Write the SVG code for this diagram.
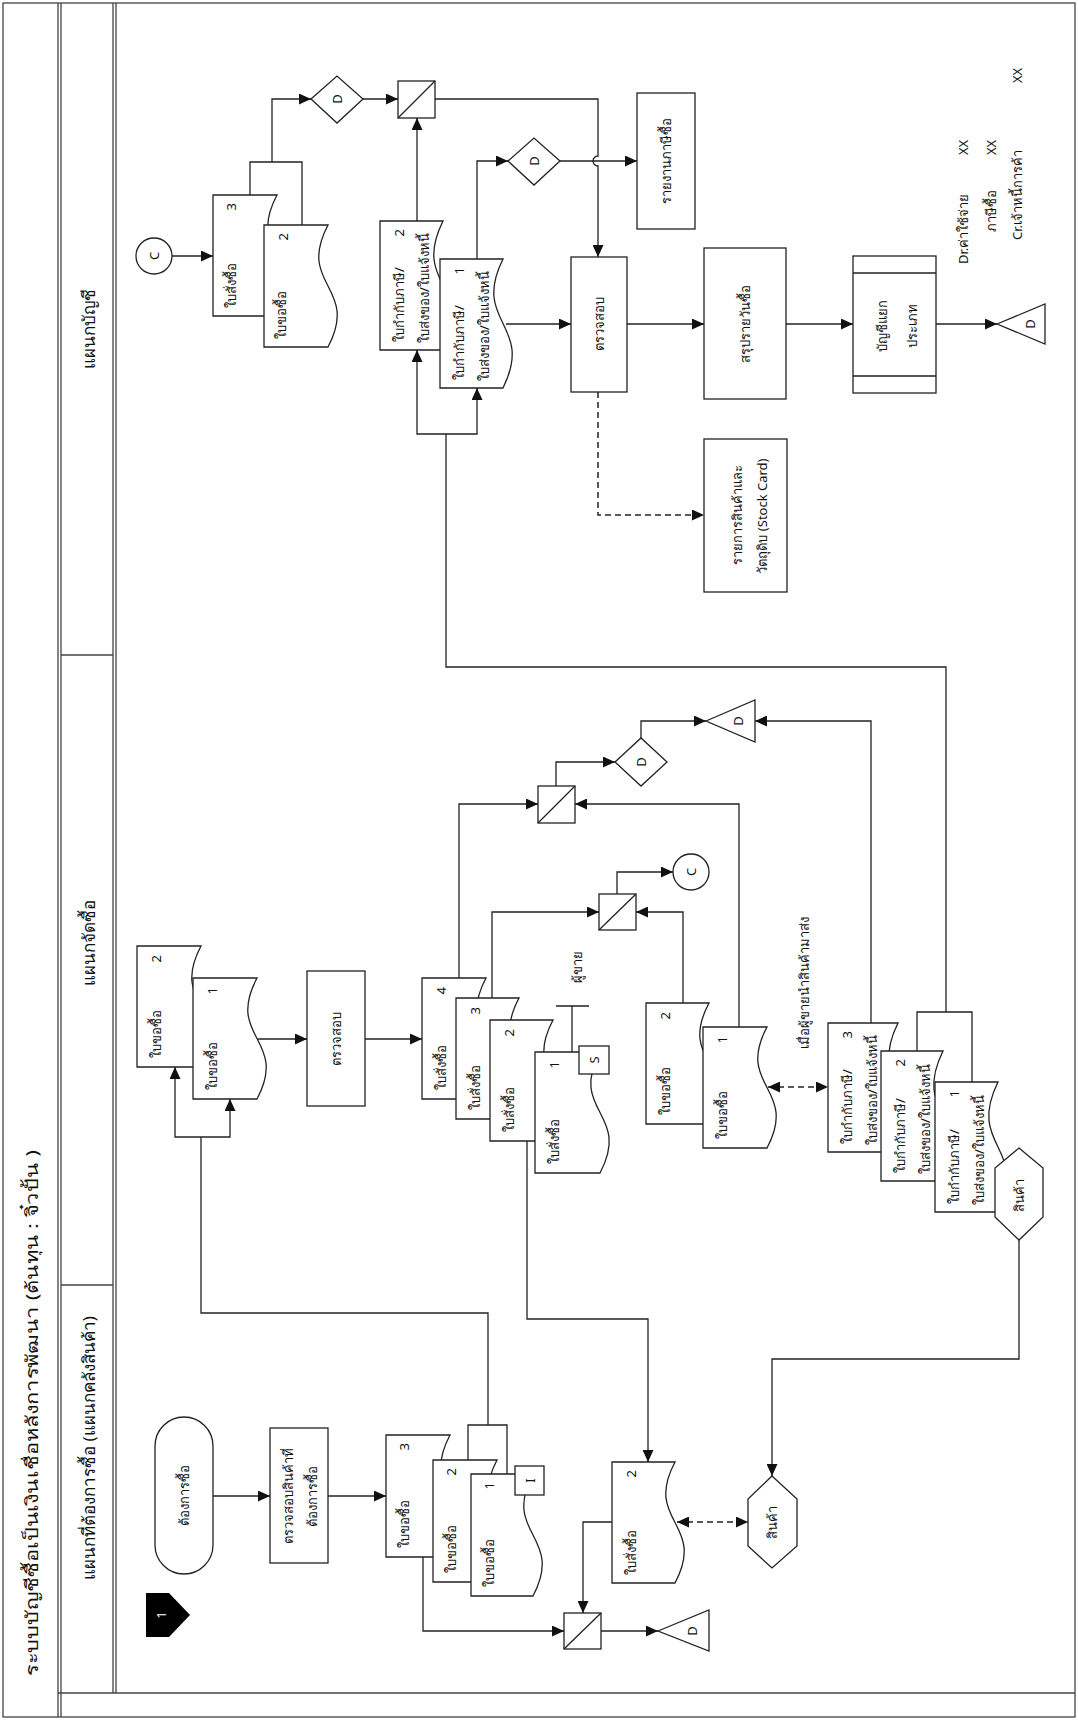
<svg xmlns="http://www.w3.org/2000/svg" width="1078" height="1720" viewBox="0 0 1078 1720">
<style>
.fr{fill:none;stroke:#444;stroke-width:1.3}
.sh{fill:#fff;stroke:#222;stroke-width:1.3}
.ln{fill:none;stroke:#222;stroke-width:1.3}
.da{fill:none;stroke:#222;stroke-width:1.5;stroke-dasharray:6 4}
.t{font-family:'Noto Sans','DejaVu Sans',sans-serif;font-size:13px;fill:#111;dominant-baseline:central}
.m{text-anchor:middle}
.e{text-anchor:end}
.h{font-size:17px}
.w{fill:#fff}
</style>
<defs>
<marker id="ah" viewBox="0 0 12 11" refX="12" refY="5.5" markerWidth="12" markerHeight="11" markerUnits="userSpaceOnUse" orient="auto"><path d="M0,0 L12,5.5 L0,11 z" fill="#111"/></marker>
<marker id="as" viewBox="0 0 12 11" refX="12" refY="5.5" markerWidth="12" markerHeight="11" markerUnits="userSpaceOnUse" orient="auto-start-reverse"><path d="M0,0 L12,5.5 L0,11 z" fill="#111"/></marker>
</defs>
<rect width="1078" height="1720" fill="#fff"/>
<g id="frame">
<rect class="fr" x="3" y="3" width="1072" height="1714"/>
<path class="fr" d="M58,3 V1717 M61,3 V1717 M113,3 V1693 M116,3 V1693 M58,1693 H1075 M61,655 H113 M61,1285 H113"/>
<text class="t m h" transform="translate(31,1413) rotate(-90)" textLength="526" lengthAdjust="spacingAndGlyphs">ระบบบัญชีซื้อเป็นเงินเชื่อหลังการพัฒนา (ต้นทุน : จิ๋วปั้น )</text>
<text class="t m h" transform="translate(88,329) rotate(-90)">แผนกบัญชี</text>
<text class="t m h" transform="translate(88,943) rotate(-90)">แผนกจัดซื้อ</text>
<text class="t m h" transform="translate(88,1448) rotate(-90)">แผนกที่ต้องการซื้อ (แผนกคลังสินค้า)</text>
</g>

<g id="lane-accounting">
<g id="a-conn-C"><circle class="sh" cx="154" cy="256" r="18"/><text class="t m" transform="translate(154,256) rotate(-90)">C</text></g>
<g id="a-po3"><path class="sh" d="M213,195 H277 C245,255.5 309,255.5 277,316 H213 Z"/><text class="t e" transform="translate(231,203) rotate(-90)">3</text><text class="t" transform="translate(231,308) rotate(-90)">ใบสั่งซื้อ</text></g>
<g id="a-pr2"><path class="sh" d="M264,225 H328 C296,286 360,286 328,347 H264 Z"/><text class="t e" transform="translate(283,233) rotate(-90)">2</text><text class="t" transform="translate(281,339) rotate(-90)">ใบขอซื้อ</text></g>
<g id="a-file1"><polygon class="sh" points="311,99 337,76 363,99 337,123"/><text class="t m" transform="translate(337,99) rotate(-90)">D</text></g>
<g id="a-merge"><rect class="sh" x="398" y="81" width="37" height="37"/><path class="ln" d="M398,118 L435,81"/></g>
<g id="a-tax2"><path class="sh" d="M380,221 H443 C411,285.5 475,285.5 443,350 H380 Z"/><text class="t e" transform="translate(399,229) rotate(-90)">2</text><text class="t" transform="translate(399,342) rotate(-90)">ใบกำกับภาษี/</text><text class="t" transform="translate(424,343) rotate(-90)">ใบส่งของ/ใบแจ้งหนี้</text></g>
<g id="a-tax1"><path class="sh" d="M440,259 H503 C471,323.5 535,323.5 503,388 H440 Z"/><text class="t e" transform="translate(459,267) rotate(-90)">1</text><text class="t" transform="translate(459,380) rotate(-90)">ใบกำกับภาษี/</text><text class="t" transform="translate(484,381) rotate(-90)">ใบส่งของ/ใบแจ้งหนี้</text></g>
<g id="a-file2"><polygon class="sh" points="508,161 534,138 560,161 534,185"/><text class="t m" transform="translate(534,161) rotate(-90)">D</text></g>
<g id="a-taxreport"><rect class="sh" x="637" y="93" width="58" height="136"/><text class="t m" transform="translate(666,161) rotate(-90)">รายงานภาษีซื้อ</text></g>
<g id="a-check"><rect class="sh" x="571" y="257" width="56" height="135"/><text class="t m" transform="translate(599,324) rotate(-90)">ตรวจสอบ</text></g>
<g id="a-stock"><rect class="sh" x="704" y="439" width="83" height="153"/><text class="t m" transform="translate(737,515) rotate(-90)">รายการสินค้าและ</text><text class="t m" transform="translate(762,516) rotate(-90)">วัตถุดิบ (Stock Card)</text></g>
<g id="a-summary"><rect class="sh" x="704" y="248" width="82" height="151"/><text class="t m" transform="translate(745,324) rotate(-90)">สรุปรายวันซื้อ</text></g>
<g id="a-ledger"><rect class="sh" x="853" y="256" width="83" height="137"/><path class="ln" d="M853,273 H936 M853,376 H936"/><text class="t m" transform="translate(882,326) rotate(-90)">บัญชีแยก</text><text class="t m" transform="translate(912,326) rotate(-90)">ประเภท</text></g>
<g id="a-file3"><polygon class="sh" points="997,324 1045,304 1045,344"/><text class="t m" transform="translate(1030,324) rotate(-90)">D</text></g>
<g id="a-journal">
<text class="t" transform="translate(963,264) rotate(-90)">Dr.ค่าใช้จ่าย</text>
<text class="t" transform="translate(963,155) rotate(-90)">XX</text>
<text class="t" transform="translate(991,232) rotate(-90)">ภาษีซื้อ</text>
<text class="t" transform="translate(991,155) rotate(-90)">XX</text>
<text class="t" transform="translate(1017,240) rotate(-90)">Cr.เจ้าหนี้การค้า</text>
<text class="t" transform="translate(1017,83) rotate(-90)">XX</text>
</g>
</g>

<g id="lane-purchasing">
<g id="p-pr2"><path class="sh" d="M137,946 H201 C169,1006.5 233,1006.5 201,1067 H137 Z"/><text class="t e" transform="translate(156,955) rotate(-90)">2</text><text class="t" transform="translate(156,1058) rotate(-90)">ใบขอซื้อ</text></g>
<g id="p-pr1"><path class="sh" d="M193,978 H257 C225,1038.5 289,1038.5 257,1099 H193 Z"/><text class="t e" transform="translate(212,987) rotate(-90)">1</text><text class="t" transform="translate(212,1090) rotate(-90)">ใบขอซื้อ</text></g>
<g id="p-check"><rect class="sh" x="307" y="971" width="58" height="135"/><text class="t m" transform="translate(336,1039) rotate(-90)">ตรวจสอบ</text></g>
<g id="p-po4"><path class="sh" d="M422,978 H486 C454,1038.5 518,1038.5 486,1099 H422 Z"/><text class="t e" transform="translate(441,987) rotate(-90)">4</text><text class="t" transform="translate(441,1090) rotate(-90)">ใบสั่งซื้อ</text></g>
<g id="p-po3"><path class="sh" d="M456,998 H519 C487,1058.5 551,1058.5 519,1119 H456 Z"/><text class="t e" transform="translate(475,1007) rotate(-90)">3</text><text class="t" transform="translate(475,1110) rotate(-90)">ใบสั่งซื้อ</text></g>
<g id="p-po2"><path class="sh" d="M490,1020 H553 C521,1080.5 585,1080.5 553,1141 H490 Z"/><text class="t e" transform="translate(509,1029) rotate(-90)">2</text><text class="t" transform="translate(509,1132) rotate(-90)">ใบสั่งซื้อ</text></g>
<g id="p-po1"><path class="sh" d="M535,1052 H600 C568,1112.5 632,1112.5 600,1173 H535 Z"/><rect class="sh" x="579" y="1046" width="30" height="28"/><text class="t m" transform="translate(594,1060) rotate(-90)">S</text><text class="t e" transform="translate(554,1061) rotate(-90)">1</text><text class="t" transform="translate(554,1164) rotate(-90)">ใบสั่งซื้อ</text></g>
<text class="t m" transform="translate(577,967) rotate(-90)">ผู้ขาย</text>
<g id="p-merge1"><rect class="sh" x="538" y="786" width="37" height="37"/><path class="ln" d="M538,823 L575,786"/></g>
<g id="p-file1"><polygon class="sh" points="615,762 641,738 667,762 641,786"/><text class="t m" transform="translate(641,762) rotate(-90)">D</text></g>
<g id="p-file2"><polygon class="sh" points="706,721 755,700 755,742"/><text class="t m" transform="translate(738,721) rotate(-90)">D</text></g>
<g id="p-merge2"><rect class="sh" x="599" y="894" width="37" height="36"/><path class="ln" d="M599,930 L636,894"/></g>
<g id="p-conn-C"><circle class="sh" cx="691" cy="872" r="18"/><text class="t m" transform="translate(691,872) rotate(-90)">C</text></g>
<g id="p-rq2"><path class="sh" d="M646,1003 H709 C677,1063.5 741,1063.5 709,1124 H646 Z"/><text class="t e" transform="translate(665,1012) rotate(-90)">2</text><text class="t" transform="translate(665,1115) rotate(-90)">ใบขอซื้อ</text></g>
<g id="p-rq1"><path class="sh" d="M703,1027 H767 C735,1087.5 799,1087.5 767,1148 H703 Z"/><text class="t e" transform="translate(722,1036) rotate(-90)">1</text><text class="t" transform="translate(722,1139) rotate(-90)">ใบขอซื้อ</text></g>
<text class="t m" transform="translate(804,983) rotate(-90)">เมื่อผู้ขายนำสินค้ามาส่ง</text>
<g id="p-tax3"><path class="sh" d="M828,1023 H898 C866,1087.5 930,1087.5 898,1152 H828 Z"/><text class="t e" transform="translate(847,1031) rotate(-90)">3</text><text class="t" transform="translate(847,1144) rotate(-90)">ใบกำกับภาษี/</text><text class="t" transform="translate(872,1145) rotate(-90)">ใบส่งของ/ใบแจ้งหนี้</text></g>
<g id="p-tax2"><path class="sh" d="M881,1051 H943 C911,1116 975,1116 943,1181 H881 Z"/><text class="t e" transform="translate(900,1059) rotate(-90)">2</text><text class="t" transform="translate(900,1173) rotate(-90)">ใบกำกับภาษี/</text><text class="t" transform="translate(925,1174) rotate(-90)">ใบส่งของ/ใบแจ้งหนี้</text></g>
<g id="p-tax1"><path class="sh" d="M935,1082 H998 C966,1147 1030,1147 998,1212 H935 Z"/><text class="t e" transform="translate(954,1090) rotate(-90)">1</text><text class="t" transform="translate(954,1204) rotate(-90)">ใบกำกับภาษี/</text><text class="t" transform="translate(979,1205) rotate(-90)">ใบส่งของ/ใบแจ้งหนี้</text></g>
<g id="p-goods"><polygon class="sh" points="1019,1148 1043,1168 1043,1217 1019,1240 995,1217 995,1168"/><text class="t m" transform="translate(1019,1195) rotate(-90)">สินค้า</text></g>
</g>

<g id="lane-requesting">
<g id="w-start"><rect class="sh" x="155" y="1417" width="58" height="157" rx="29"/><text class="t m" transform="translate(184,1495) rotate(-90)">ต้องการซื้อ</text></g>
<g id="w-check"><rect class="sh" x="270" y="1428" width="58" height="135"/><text class="t m" transform="translate(288,1496) rotate(-90)">ตรวจสอบสินค้าที่</text><text class="t m" transform="translate(312,1496) rotate(-90)">ต้องการซื้อ</text></g>
<g id="w-rq3"><path class="sh" d="M386,1435 H450 C418,1496 482,1496 450,1557 H386 Z"/><text class="t e" transform="translate(404,1443) rotate(-90)">3</text><text class="t" transform="translate(404,1548) rotate(-90)">ใบขอซื้อ</text></g>
<g id="w-rq2"><path class="sh" d="M433,1460 H497 C465,1521 529,1521 497,1582 H433 Z"/><text class="t e" transform="translate(451,1468) rotate(-90)">2</text><text class="t" transform="translate(451,1573) rotate(-90)">ใบขอซื้อ</text></g>
<g id="w-rq1"><path class="sh" d="M471,1474 H533 C501,1535 565,1535 533,1596 H471 Z"/><rect class="sh" x="515" y="1466" width="29" height="29"/><text class="t m" transform="translate(529.5,1480.5) rotate(-90)">I</text><text class="t e" transform="translate(489,1482) rotate(-90)">1</text><text class="t" transform="translate(489,1587) rotate(-90)">ใบขอซื้อ</text></g>
<g id="w-merge"><rect class="sh" x="564" y="1613" width="37" height="36"/><path class="ln" d="M564,1649 L601,1613"/></g>
<g id="w-file"><polygon class="sh" points="658,1631 709,1610 709,1651"/><text class="t m" transform="translate(692,1631) rotate(-90)">D</text></g>
<g id="w-po2"><path class="sh" d="M612,1462 H675 C643,1522.5 707,1522.5 675,1583 H612 Z"/><text class="t e" transform="translate(631,1470) rotate(-90)">2</text><text class="t" transform="translate(631,1575) rotate(-90)">ใบสั่งซื้อ</text></g>
<g id="w-goods"><polygon class="sh" points="772,1476 797,1499 797,1546 772,1568 748,1546 748,1499"/><text class="t m" transform="translate(772,1522) rotate(-90)">สินค้า</text></g>
<g id="w-page"><path d="M146,1593 H169 L190,1615 L169,1637 H146 Z" fill="#000"/><text class="t m w" transform="translate(161,1615) rotate(-90)">1</text></g>
</g>

<g id="connectors">
<path class="ln" marker-end="url(#ah)" d="M172,256 H213"/>
<path class="ln" d="M250,195 V162 H302 V225"/>
<path class="ln" marker-end="url(#ah)" d="M272,162 V99 H311"/>
<path class="ln" marker-end="url(#ah)" d="M363,99 H398"/>
<path class="ln" marker-end="url(#ah)" d="M435,99 H598 V156 A5,5 0 0 0 598,166 V257"/>
<path class="ln" marker-end="url(#ah)" d="M417,221 V118"/>
<path class="ln" marker-end="url(#ah)" d="M477,259 V161 H508"/>
<path class="ln" marker-end="url(#ah)" d="M560,161 H637"/>
<path class="ln" marker-end="url(#ah)" d="M506,324 H571"/>
<path class="ln" marker-end="url(#ah)" d="M627,324 H704"/>
<path class="ln" marker-end="url(#ah)" d="M786,324 H853"/>
<path class="ln" marker-end="url(#ah)" d="M936,324 H997"/>
<path class="da" marker-end="url(#ah)" d="M598,392 V515 H704"/>
<path class="ln" d="M946,1012 V667 H446 V434"/>
<path class="ln" marker-end="url(#ah)" d="M446,434 H417 V350"/>
<path class="ln" marker-end="url(#ah)" d="M446,434 H477 V388"/>
<path class="ln" d="M917,1051 V1012 H972 V1082"/>
<path class="ln" d="M488,1425 V1313 H201 V1137"/>
<path class="ln" marker-end="url(#ah)" d="M201,1137 H175 V1067"/>
<path class="ln" marker-end="url(#ah)" d="M201,1137 H230 V1099"/>
<path class="ln" marker-end="url(#ah)" d="M258,1039 H307"/>
<path class="ln" marker-end="url(#ah)" d="M365,1039 H422"/>
<path class="ln" marker-end="url(#ah)" d="M459,978 V804 H538"/>
<path class="ln" marker-end="url(#ah)" d="M739,1027 V804 H575"/>
<path class="ln" marker-end="url(#ah)" d="M556,786 V762 H615"/>
<path class="ln" marker-end="url(#ah)" d="M641,738 V721 H706"/>
<path class="ln" marker-end="url(#ah)" d="M871,1023 V721 H755"/>
<path class="ln" marker-end="url(#ah)" d="M492,998 V912 H599"/>
<path class="ln" marker-end="url(#ah)" d="M683,1003 V912 H636"/>
<path class="ln" marker-end="url(#ah)" d="M617,894 V872 H673"/>
<path class="ln" d="M572,1052 V1006 M556,1006 H589"/>
<path class="da" marker-start="url(#as)" marker-end="url(#ah)" d="M768,1087 H828"/>
<path class="ln" marker-end="url(#ah)" d="M1019,1240 V1359 H772 V1476"/>
<path class="ln" marker-end="url(#ah)" d="M527,1141 V1319 H648 V1462"/>
<path class="ln" marker-end="url(#ah)" d="M213,1496 H270"/>
<path class="ln" marker-end="url(#ah)" d="M328,1496 H386"/>
<path class="ln" d="M468,1460 V1425 H507 V1474"/>
<path class="ln" marker-end="url(#ah)" d="M423,1557 V1631 H564"/>
<path class="ln" marker-end="url(#ah)" d="M612,1522 H583 V1613"/>
<path class="ln" marker-end="url(#ah)" d="M601,1631 H658"/>
<path class="da" marker-start="url(#as)" marker-end="url(#ah)" d="M677,1522 H748"/>
</g>
</svg>
